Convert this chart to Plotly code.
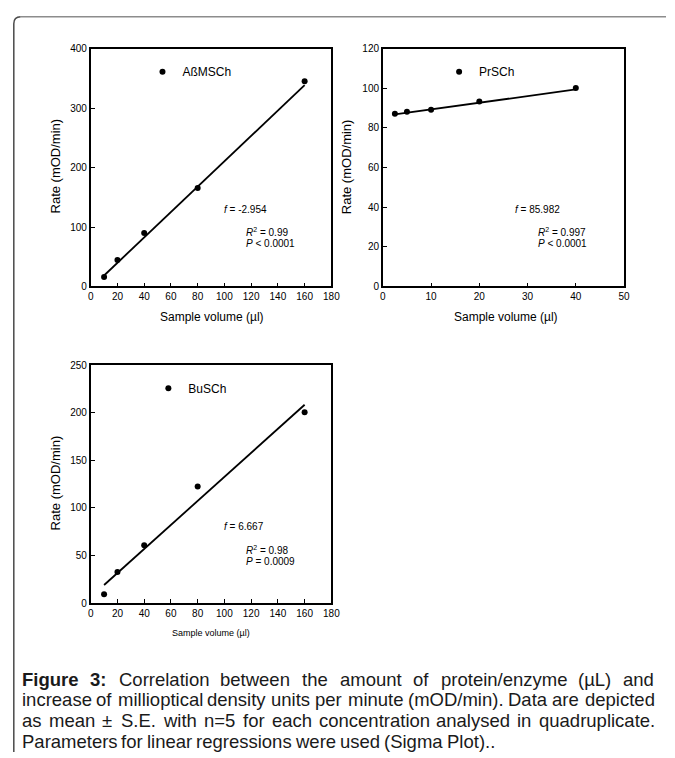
import plotly.graph_objects as go

W, H = 675, 758

def px(x):
    return x / W

def py(y):
    return 1 - y / H

# ---------------- data ----------------
a_x = [10, 20, 40, 80, 160]
a_y = [16, 44.5, 90, 165.5, 345]
a_fit_x = [10, 160]
a_fit_y = [18.5, 338.5]

p_x = [2.5, 5, 10, 20, 40]
p_y = [87.2, 88.2, 89.2, 93.3, 100.1]
p_fit_x = [2.5, 40]
p_fit_y = [86.8, 99.4]

b_x = [10, 20, 40, 80, 160]
b_y = [9.3, 32.8, 60.7, 122.5, 200.5]
b_fit_x = [10, 160]
b_fit_y = [19, 208.5]

x_ticks_a = [0, 20, 40, 60, 80, 100, 120, 140, 160, 180]
y_ticks_a = [0, 100, 200, 300, 400]
x_ticks_p = [0, 10, 20, 30, 40, 50]
y_ticks_p = [0, 20, 40, 60, 80, 100, 120]
x_ticks_b = [0, 20, 40, 60, 80, 100, 120, 140, 160, 180]
y_ticks_b = [0, 50, 100, 150, 200, 250]

names = ["AßMSCh", "PrSCh", "BuSCh"]
intercepts = ["-2.954", "85.982", "6.667"]
r2 = ["0.99", "0.997", "0.98"]
pvals = ["< 0.0001", "< 0.0001", "= 0.0009"]

# caption lines: (bold prefix words, rest, justified?)
caption = [
    ("Figure 3:", "Correlation between the amount of protein/enzyme (µL) and", True),
    ("", "increase of millioptical density units per minute (mOD/min). Data are depicted", True),
    ("", "as mean ± S.E. with n=5 for each concentration analysed in quadruplicate.", True),
    ("", "Parameters for linear regressions were used (Sigma Plot)..", False),
]

FONT = "Liberation Sans, Arial, sans-serif"

# Arial / Liberation Sans advance widths (1/1000 em) for word-spacing layout
_reg = dict(zip("0123456789", [556] * 10))
_reg.update({" ": 278, "(": 333, ")": 333, ".": 278, "/": 278, ":": 278, "=": 584, "±": 584,
             ",": 278, "-": 333, "µ": 556,
             "A": 667, "B": 667, "C": 722, "D": 722, "E": 667, "F": 611, "G": 778, "H": 722,
             "I": 278, "J": 500, "K": 667, "L": 556, "M": 833, "N": 722, "O": 778, "P": 667,
             "Q": 778, "R": 722, "S": 667, "T": 611, "U": 722, "V": 667, "W": 944, "X": 667,
             "Y": 667, "Z": 611,
             "a": 556, "b": 556, "c": 500, "d": 556, "e": 556, "f": 278, "g": 556, "h": 556,
             "i": 222, "j": 222, "k": 500, "l": 222, "m": 833, "n": 556, "o": 556, "p": 556,
             "q": 556, "r": 333, "s": 500, "t": 278, "u": 556, "v": 500, "w": 722, "x": 500,
             "y": 500, "z": 500})
_bold = dict(_reg)
_bold.update({"F": 611, "i": 278, "g": 611, "u": 611, "r": 389, "e": 556, "3": 556, ":": 333})


def text_w(s, size, bold=False):
    tbl = _bold if bold else _reg
    return sum(tbl.get(c, 556) for c in s) * size / 1000.0


fig = go.Figure()

panels = [
    (a_x, a_y, a_fit_x, a_fit_y, "x", "y", "legend"),
    (p_x, p_y, p_fit_x, p_fit_y, "x2", "y2", "legend2"),
    (b_x, b_y, b_fit_x, b_fit_y, "x3", "y3", "legend3"),
]
for i, (xs, ys, fx, fy, xa, ya, lg) in enumerate(panels):
    fig.add_trace(go.Scatter(x=fx, y=fy, mode="lines", xaxis=xa, yaxis=ya,
                             line=dict(color="black", width=1.8), showlegend=False,
                             hoverinfo="skip"))
    fig.add_trace(go.Scatter(x=xs, y=ys, mode="markers", xaxis=xa, yaxis=ya,
                             name=names[i], legend=lg,
                             marker=dict(color="black", size=6)))

axis_common = dict(showline=True, linecolor="black", linewidth=1.6, mirror=True,
                   ticks="inside", ticklen=4, tickwidth=1, tickcolor="black",
                   showgrid=False, zeroline=False,
                   tickfont=dict(family=FONT, size=10, color="black"))

box_a = (89.3, 334.3, 43.3, 285)
box_p = (386.7, 632.3, 43.3, 285)
box_b = (89.3, 334.3, 365, 606.7)

def dom(box):
    x0, x1, y0, y1 = box
    return [px(x0), px(x1)], [py(y1), py(y0)]

dxa, dya = dom(box_a)
dxp, dyp = dom(box_p)
dxb, dyb = dom(box_b)

fig.update_layout(
    width=W, height=H, margin=dict(l=0, r=0, t=0, b=0),
    paper_bgcolor="white", plot_bgcolor="white",
    font=dict(family=FONT, color="black"),
    xaxis=dict(domain=dxa, range=[0, 180], tickvals=x_ticks_a, anchor="y", **axis_common),
    yaxis=dict(domain=dya, range=[0, 400], tickvals=y_ticks_a, anchor="x", **axis_common),
    xaxis2=dict(domain=dxp, range=[0, 50], tickvals=x_ticks_p, anchor="y2", **axis_common),
    yaxis2=dict(domain=dyp, range=[0, 120], tickvals=y_ticks_p, anchor="x2", **axis_common),
    xaxis3=dict(domain=dxb, range=[0, 180], tickvals=x_ticks_b, anchor="y3", **axis_common),
    yaxis3=dict(domain=dyb, range=[0, 250], tickvals=y_ticks_b, anchor="x3", **axis_common),
    showlegend=True,
)

leg_common = dict(xanchor="left", yanchor="middle", bgcolor="rgba(0,0,0,0)",
                  font=dict(family=FONT, size=12, color="black"), borderwidth=0)
fig.update_layout(
    legend=dict(x=px(142), y=py(66.7), **leg_common),
    legend2=dict(x=px(444), y=py(66.7), **leg_common),
    legend3=dict(x=px(148), y=py(388.3), **leg_common),
)

ann = []
for (cx, cy) in [(53, 163), (350, 163), (53, 485)]:
    ann.append(dict(x=px(cx), y=py(cy), xref="paper", yref="paper", text="Rate (mOD/min)",
                    xanchor="center", yanchor="middle",
                    textangle=-90, showarrow=False, font=dict(size=13, family=FONT)))
for (cx, cy, fs) in [(213, 316, 12), (511.7, 316, 12), (212, 637, 9)]:
    ann.append(dict(x=px(cx), y=py(cy), xref="paper", yref="paper", text="Sample volume (µl)",
                    xanchor="center", yanchor="middle",
                    showarrow=False, font=dict(size=fs, family=FONT)))

stat_pos = [
    ("x", "y", 98, 129.6, 114.4, 91, 71.7),
    ("x2", "y2", 27, 38.9, 31.7, 27.3, 21.5),
    ("x3", "y3", 98, 80.4, 114.4, 56.3, 44.2),
]
for i, (xa, ya, fx_, fy_, rx, ry, pyy) in enumerate(stat_pos):
    f = dict(size=10, family=FONT)
    ann.append(dict(x=fx_, y=fy_, xref=xa, yref=ya, xanchor="left", yanchor="middle",
                    showarrow=False, text=f"<i>f</i> = {intercepts[i]}", font=f))
    ann.append(dict(x=rx, y=ry, xref=xa, yref=ya, xanchor="left", yanchor="middle",
                    showarrow=False, text=f"<i>R</i><sup>2</sup> = {r2[i]}", font=f))
    ann.append(dict(x=rx, y=pyy, xref=xa, yref=ya, xanchor="left", yanchor="middle",
                    showarrow=False, text=f"<i>P</i> {pvals[i]}", font=f))

# caption, justified between left and right edges
CAP_SIZE = 18.5
CAP_L, CAP_R = 20, 663
PAD = 3  # annotation inner padding in px
cap_y = [684, 705, 726, 747]
for (bold, rest, just), yy in zip(caption, cap_y):
    words = [(w, True) for w in bold.split()] + [(w, False) for w in rest.split()]
    widths = [text_w(w, CAP_SIZE, b) for w, b in words]
    space = text_w(" ", CAP_SIZE)
    if just and len(words) > 1:
        gap = (CAP_R - CAP_L - sum(widths)) / (len(words) - 1)
    else:
        gap = space
    xcur = CAP_L
    for (w, b), wd in zip(words, widths):
        ann.append(dict(x=px(xcur - PAD), y=py(yy), xref="paper", yref="paper",
                        xanchor="left", yanchor="middle", showarrow=False,
                        text=f"<b>{w}</b>" if b else w,
                        font=dict(size=CAP_SIZE, family=FONT, color="#1a1a1a")))
        xcur += wd + gap

fig.update_layout(annotations=ann)

# page frame: darker left edge, lighter top edge, rounded corner
r = 7
left_path = (f"M {px(11)},{py(758)} L {px(11)},{py(11 + r)} "
             f"Q {px(11)},{py(11)} {px(11 + r)},{py(11)}")
top_path = f"M {px(11 + r)},{py(11)} L {px(675)},{py(11)}"
fig.add_shape(type="path", path=left_path, xref="paper", yref="paper",
              line=dict(color="#4a4a4a", width=1.5))
fig.add_shape(type="path", path=top_path, xref="paper", yref="paper",
              line=dict(color="#8c8c8c", width=1.5))

fig.write_html("out.html")
